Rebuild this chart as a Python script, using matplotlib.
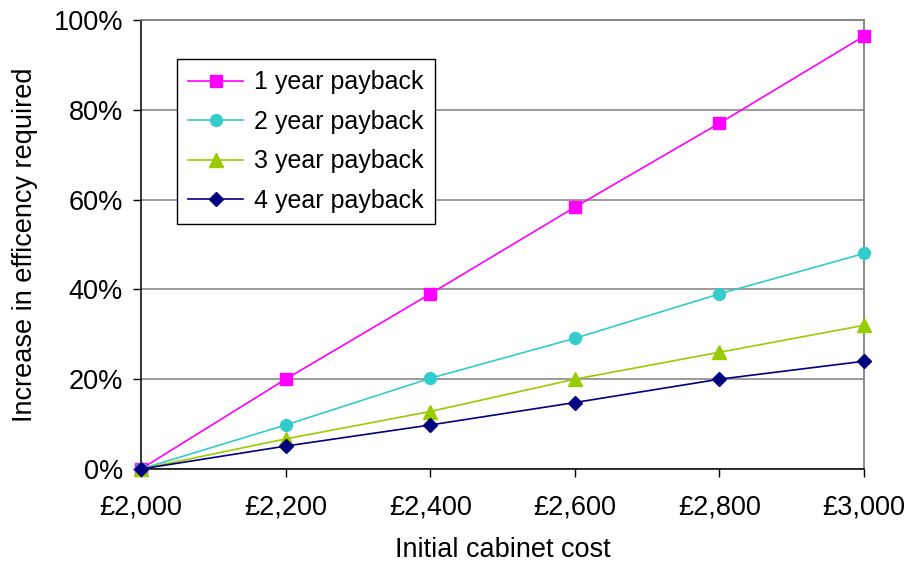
import matplotlib
matplotlib.use("Agg")
import matplotlib.pyplot as plt
from matplotlib.ticker import FuncFormatter, MultipleLocator

plt.rcParams['font.family'] = ['Liberation Sans', 'DejaVu Sans']

# cabinet cost (GBP) and required efficiency increase (%)
cost = [2000, 2200, 2400, 2600, 2800, 3000]
payback_1yr = [0, 20, 39, 58.3, 77, 96.4]
payback_2yr = [0, 9.8, 20.2, 29.1, 39, 48]
payback_3yr = [0, 6.7, 12.8, 20, 26, 32]
payback_4yr = [0, 5.1, 9.8, 14.8, 20, 24]

series = [
    ("1 year payback", payback_1yr, "#FF00FF", "s", 8.5),
    ("2 year payback", payback_2yr, "#33CCCC", "o", 8.5),
    ("3 year payback", payback_3yr, "#99CC00", "^", 9.5),
    ("4 year payback", payback_4yr, "#000080", "D", 7.5),
]

W, H = 908, 561
FS = 19.5
fig = plt.figure(figsize=(W / 100, H / 100), dpi=100)
ax = fig.add_axes([141 / W, 1 - 469 / H, (864 - 141) / W, (469 - 20) / H])

for label, vals, color, marker, ms in series:
    ax.plot(cost, vals, color=color, marker=marker, markersize=ms,
            linewidth=1.2, label=label, clip_on=False, zorder=3)

ax.set_xlim(2000, 3000)
ax.set_ylim(0, 100)
ax.xaxis.set_major_locator(MultipleLocator(200))
ax.yaxis.set_major_locator(MultipleLocator(20))
ax.xaxis.set_major_formatter(FuncFormatter(lambda v, p: f"£{v:,.0f}"))
ax.yaxis.set_major_formatter(FuncFormatter(lambda v, p: f"{v:.0f}%"))

ax.grid(True, axis='y', color='#808080', linewidth=1.1)
ax.set_axisbelow(True)
ax.tick_params(axis='both', labelsize=FS, length=6, width=1, colors='#000000')
ax.tick_params(axis='x', pad=12)
ax.tick_params(axis='y', pad=7)

for side in ('top', 'right'):
    ax.spines[side].set_color('#808080')
    ax.spines[side].set_linewidth(1.3)
for side in ('left', 'bottom'):
    ax.spines[side].set_color('#000000')
    ax.spines[side].set_linewidth(1.1)

ax.set_xlabel("Initial cabinet cost", fontsize=FS, labelpad=12)
ax.set_ylabel("Increase in efficency required", fontsize=FS, labelpad=11)

leg = ax.legend(loc='upper left', bbox_to_anchor=(177 / W, 1 - 59 / H),
                bbox_transform=fig.transFigure, borderaxespad=0,
                fontsize=18, fancybox=False, framealpha=1, edgecolor='#000000',
                handlelength=2.2, handletextpad=0.45, labelspacing=0.62,
                borderpad=0.45)
leg.get_frame().set_linewidth(1.0)

fig.savefig("out.png", dpi=100, facecolor='white')
